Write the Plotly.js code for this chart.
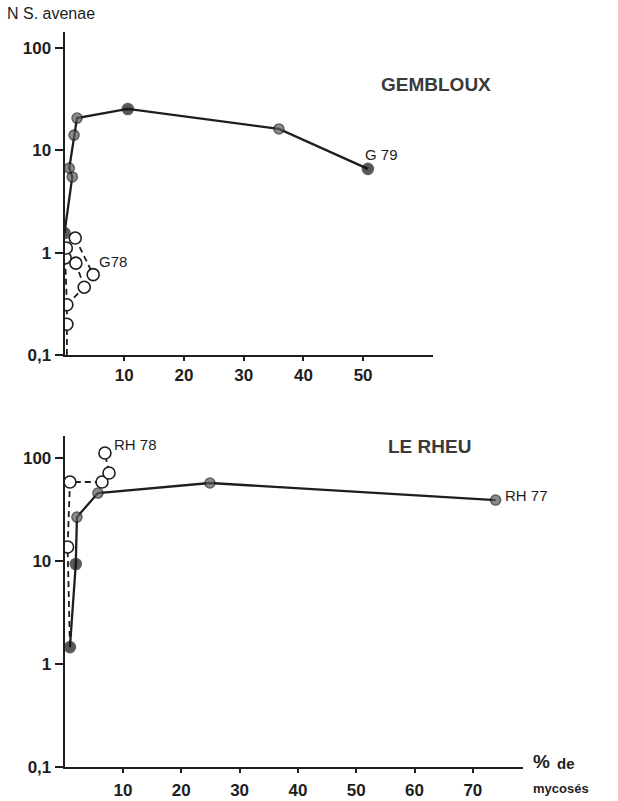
<!DOCTYPE html>
<html>
<head>
<meta charset="utf-8">
<script src="https://cdn.plot.ly/plotly-3.0.1.min.js"></script>
<style>
  html, body { margin: 0; padding: 0; background: #fff; }
  #chart { width: 618px; height: 801px; }
</style>
</head>
<body>
<div id="chart"></div>
<script>
// ---- GEMBLOUX ----
// 1979 season (solid line): % mycosés vs N S. avenae
const g79Pct  = [0, 1.3, 0.8, 1.6, 2.1, 10.6, 35.9, 50.8];
const g79Ns   = [1.56, 5.5, 6.7, 14.1, 20.7, 25.4, 16.2, 6.6];
const g79Kind = ['filled', 'hatched', 'hatched', 'hatched', 'hatched', 'filled', 'hatched', 'filled'];

// 1978 season (open circles, dashed links)
const g78Pct  = [0.4, 0.4, 3.3, 1.9, 0.1, 0.3, 1.8, 4.8];
const g78Ns   = [0.20, 0.31, 0.46, 0.79, 0.89, 1.11, 1.39, 0.61];
const g78Links = [[0, 1], [1, 2], [2, 3], [1, 4], [6, 7]];
const g78Entry = 0;   // this point's dashed line runs down to the axis

// ---- LE RHEU ----
const rh77Pct  = [0.9, 1.9, 2.1, 5.7, 24.9, 73.9];
const rh77Ns   = [1.46, 9.35, 26.7, 45.7, 57.2, 39.1];
const rh77Kind = ['filled', 'filled', 'hatched', 'hatched', 'hatched', 'hatched'];

const rh78Pct = [0.5, 0.9, 6.4, 7.6, 6.9];
const rh78Ns  = [13.7, 58.5, 58.5, 71.5, 112];

// axis ticks
const yTickVals  = [0.1, 1, 10, 100];
const yTickText  = ['0,1', '1', '10', '100'];
const xTicksTop  = [10, 20, 30, 40, 50];
const xTicksBot  = [10, 20, 30, 40, 50, 60, 70];

// ---------------------------------------------------------------
const W = 618, H = 801;
const fx = p => p / W;
const fy = p => 1 - p / H;

const INK = '#1e1e1e';
const SANS = 'Liberation Sans, Arial, sans-serif';
const kindColor = { filled: '#111111', hatched: '#5c5c5c', open: '#ffffff' };
const kindSize  = { filled: 11, hatched: 10, open: 12 };

function linkArrays(xs, ys, links) {
  const x = [], y = [];
  links.forEach(([a, b]) => { x.push(xs[a], xs[b], null); y.push(ys[a], ys[b], null); });
  return { x, y };
}

const g78L = linkArrays(g78Pct, g78Ns, g78Links);
g78L.x.push(g78Pct[g78Entry], g78Pct[g78Entry], null);
g78L.y.push(0.1, g78Ns[g78Entry], null);

// RH78 path starts from the first shared observation
const rh78LineX = [rh77Pct[0]].concat(rh78Pct);
const rh78LineY = [rh77Ns[0]].concat(rh78Ns);

const dashStyle = { color: INK, width: 1.8, dash: '6px,4px' };

const traces = [
  // Gembloux lines
  { x: g78L.x, y: g78L.y, mode: 'lines', line: dashStyle, xaxis: 'x', yaxis: 'y', hoverinfo: 'skip', connectgaps: false },
  { x: g79Pct, y: g79Ns, mode: 'lines', line: { color: INK, width: 2.3 }, xaxis: 'x', yaxis: 'y', hoverinfo: 'skip' },
  // Gembloux markers
  { x: g78Pct, y: g78Ns, mode: 'markers', xaxis: 'x', yaxis: 'y',
    marker: { size: kindSize.open, color: kindColor.open, line: { color: INK, width: 1.6 } } },
  { x: g79Pct, y: g79Ns, mode: 'markers', xaxis: 'x', yaxis: 'y',
    marker: { size: g79Kind.map(k => kindSize[k]), color: g79Kind.map(k => kindColor[k]), line: { color: INK, width: 1.6 } } },

  // Le Rheu lines
  { x: rh78LineX, y: rh78LineY, mode: 'lines', line: dashStyle, xaxis: 'x2', yaxis: 'y2', hoverinfo: 'skip' },
  { x: rh77Pct, y: rh77Ns, mode: 'lines', line: { color: INK, width: 2.3 }, xaxis: 'x2', yaxis: 'y2', hoverinfo: 'skip' },
  // Le Rheu markers
  { x: rh78Pct, y: rh78Ns, mode: 'markers', xaxis: 'x2', yaxis: 'y2',
    marker: { size: kindSize.open, color: kindColor.open, line: { color: INK, width: 1.6 } } },
  { x: rh77Pct, y: rh77Ns, mode: 'markers', xaxis: 'x2', yaxis: 'y2',
    marker: { size: rh77Kind.map(k => kindSize[k]), color: rh77Kind.map(k => kindColor[k]), line: { color: INK, width: 1.6 } } }
];

const tickFont = { family: SANS, size: 17, color: INK, weight: 'bold' };

const axisCommon = {
  showline: true, linewidth: 2, linecolor: INK,
  showgrid: false, zeroline: false,
  ticks: 'outside', tickwidth: 2, tickcolor: INK,
  tickfont: tickFont, fixedrange: true
};

const layout = {
  width: W, height: H,
  margin: { l: 0, r: 0, t: 0, b: 0 },
  paper_bgcolor: '#ffffff', plot_bgcolor: 'rgba(0,0,0,0)',
  showlegend: false,
  xaxis: Object.assign({}, axisCommon, {
    domain: [fx(64.5), fx(433)], range: [0, 61.7], anchor: 'y',
    tickvals: xTicksTop, ticklen: 4
  }),
  yaxis: Object.assign({}, axisCommon, {
    domain: [fy(355), fy(32)], type: 'log', range: [-1, 2.157], anchor: 'x',
    tickvals: yTickVals, ticktext: yTickText, ticklen: 8
  }),
  xaxis2: Object.assign({}, axisCommon, {
    domain: [fx(64.7), fx(523)], range: [0, 78.6], anchor: 'y2',
    tickvals: xTicksBot, ticklen: 4, ticklabelstandoff: 3
  }),
  yaxis2: Object.assign({}, axisCommon, {
    domain: [fy(767), fy(436)], type: 'log', range: [-1, 2.214], anchor: 'x2',
    tickvals: yTickVals, ticktext: yTickText, ticklen: 8
  }),
  annotations: [
    { text: 'N S. avenae', x: fx(5), y: fy(13), xanchor: 'left', yanchor: 'middle',
      font: { family: SANS, size: 16, color: INK } },
    { text: 'GEMBLOUX', x: fx(436), y: fy(84), xanchor: 'center', yanchor: 'middle',
      font: { family: SANS, size: 19, color: '#3a3a3a', weight: 'bold' } },
    { text: 'LE RHEU', x: fx(429), y: fy(446), xanchor: 'center', yanchor: 'middle',
      font: { family: SANS, size: 19, color: '#3a3a3a', weight: 'bold' } },
    { text: 'G 79', x: fx(363), y: fy(154), xanchor: 'left', yanchor: 'middle',
      font: { family: SANS, size: 15, color: INK } },
    { text: 'G78', x: fx(97), y: fy(261), xanchor: 'left', yanchor: 'middle',
      font: { family: SANS, size: 15, color: INK } },
    { text: 'RH 78', x: fx(112), y: fy(444), xanchor: 'left', yanchor: 'middle',
      font: { family: SANS, size: 15, color: INK } },
    { text: 'RH 77', x: fx(503), y: fy(496), xanchor: 'left', yanchor: 'middle',
      font: { family: SANS, size: 15, color: INK } },
    { text: '<b>%</b>', x: fx(531), y: fy(761), xanchor: 'left', yanchor: 'middle',
      font: { family: SANS, size: 19, color: INK } },
    { text: '<b>de</b>', x: fx(555), y: fy(763), xanchor: 'left', yanchor: 'middle',
      font: { family: SANS, size: 15, color: INK } },
    { text: '<b>mycosés</b>', x: fx(531), y: fy(788), xanchor: 'left', yanchor: 'middle',
      font: { family: SANS, size: 13, color: INK } }
  ].map(a => Object.assign({ xref: 'paper', yref: 'paper', showarrow: false }, a))
};

Plotly.newPlot('chart', traces, layout, { staticPlot: true, displayModeBar: false });
</script>
</body>
</html>
